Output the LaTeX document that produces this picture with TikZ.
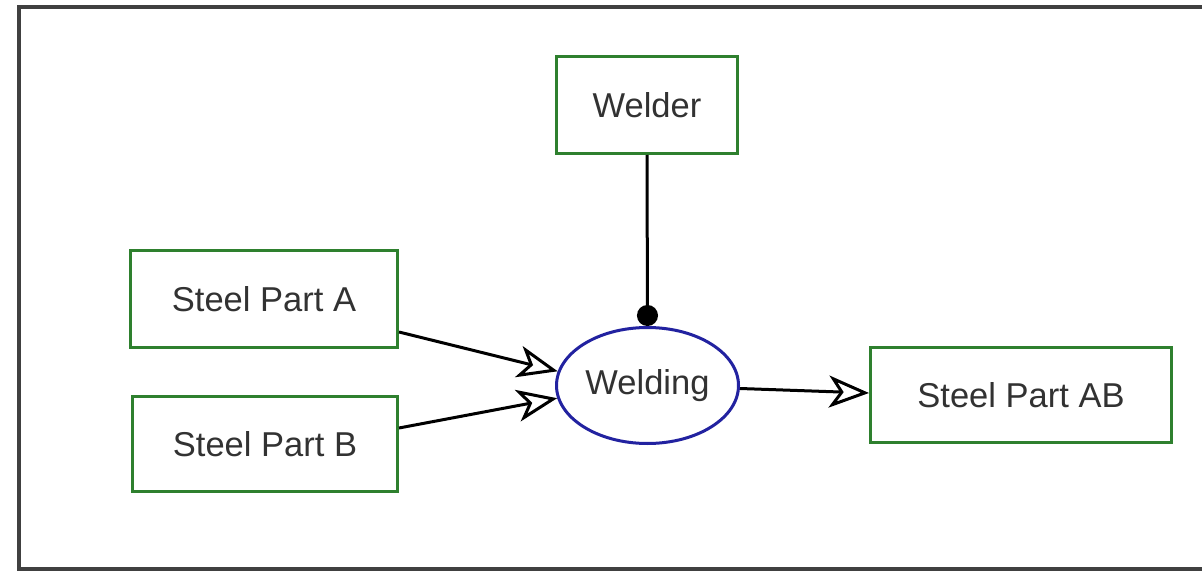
\documentclass[tikz,border=0pt]{standalone}
\usepackage{fontspec}
\setmainfont{Liberation Sans}
\usetikzlibrary{arrows.meta,shapes.geometric}
\definecolor{boxgreen}{RGB}{46,128,46}
\definecolor{ovalblue}{RGB}{34,34,160}
\definecolor{txt}{RGB}{50,50,50}
\definecolor{framegray}{RGB}{64,64,64}
\tikzset{
  part/.style={draw=boxgreen, line width=3pt, fill=white, inner sep=0pt,
    font=\fontsize{34.5pt}{38pt}\selectfont, text=txt},
  process/.style={ellipse, draw=ovalblue, line width=3pt, fill=white, inner sep=0pt,
    minimum width=182pt, minimum height=116pt,
    font=\fontsize{34.5pt}{38pt}\selectfont, text=txt},
  flow/.style={line width=3pt, -{Stealth[open, length=40pt, width=32pt, inset=11pt]}},
  resource/.style={line width=3pt, -{Circle[length=21pt]}}
}
\begin{document}
\begin{tikzpicture}[x=1pt, y=-1pt]
  \useasboundingbox (0,0) rectangle (1202,572);
  \clip (0,0) rectangle (1202,572);
  \fill[white] (0,0) rectangle (1202,572);
  % outer frame, open on the right
  \draw[framegray, line width=4pt] (1206,7.5) -- (18.5,7.5) -- (18.5,569) -- (1206,569);

  \node[part, minimum width=181pt, minimum height=97pt] (welder) at (647,105) {Welder};
  \node[part, minimum width=267pt, minimum height=97pt] (partA) at (264,299) {Steel Part A};
  \node[part, minimum width=265pt, minimum height=95pt] (partB) at (265,444) {Steel Part B};
  \node[part, minimum width=301pt, minimum height=95pt] (partAB) at (1021,395) {Steel Part AB};
  \node[process] (welding) at (647.5,385.5) {Welding};

  \draw[flow] ([yshift=-33pt]partA.east) -- (welding.171);
  \draw[flow] ([yshift=16pt]partB.east) -- (welding.188);
  \draw[flow] ([yshift=-3pt]welding.east) -- ([yshift=2pt]partAB.west);
  \draw[resource] (welder.south) -- (welding.north);
\end{tikzpicture}
\end{document}
